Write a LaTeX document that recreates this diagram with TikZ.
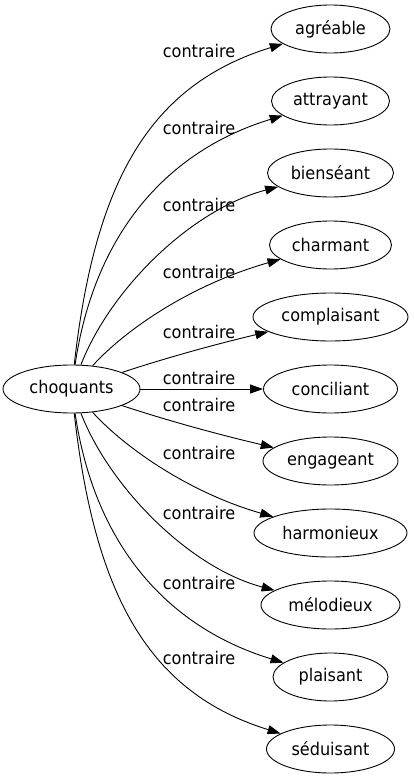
\documentclass[tikz,border=0pt]{standalone}
\usepackage{fontspec}
\setmainfont{DejaVu Sans}[FakeStretch=0.92]
\usetikzlibrary{arrows.meta,shapes.geometric}
\begin{document}
\begin{tikzpicture}[x=1pt,y=-1pt,
  word/.style={draw, ellipse, minimum height=48pt, inner sep=0pt, line width=0.9pt,
    font=\fontsize{17.5}{20}\selectfont},
  rel/.style={draw, line width=0.9pt, -{Triangle[length=13pt,width=9pt]}},
  lab/.style={inner sep=0pt, font=\fontsize{17.5}{20}\selectfont}]
\useasboundingbox (0,0) rectangle (413,779);
\node[word, minimum width=137pt] (c) at (71.5,389) {choquants};
\node[word, minimum width=119pt] (t1) at (330.5,29) {agréable};
\node[word, minimum width=118pt] (t2) at (330.5,101) {attrayant};
\node[word, minimum width=126pt] (t3) at (330.5,173) {bienséant};
\node[word, minimum width=122pt] (t4) at (330.5,245) {charmant};
\node[word, minimum width=155pt] (t5) at (330.5,317) {complaisant};
\node[word, minimum width=134pt] (t6) at (330.5,389) {conciliant};
\node[word, minimum width=135pt] (t7) at (330.5,461) {engageant};
\node[word, minimum width=153pt] (t8) at (330.5,533) {harmonieux};
\node[word, minimum width=139pt] (t9) at (330.5,605) {mélodieux};
\node[word, minimum width=115pt] (t10) at (330.5,677) {plaisant};
\node[word, minimum width=128pt] (t11) at (330.5,749) {séduisant};
\draw[rel] (c) .. controls (95,180) and (150,85) .. (t1);
\draw[rel] (c) .. controls (95,230) and (170,150) .. (t2);
\draw[rel] (c) .. controls (110,290) and (190,210) .. (t3);
\draw[rel] (c) .. controls (125,330) and (190,285) .. (t4);
\draw[rel] (c) .. controls (175,355) and (225,342) .. (t5);
\draw[rel] (c) -- (t6);
\draw[rel] (c) .. controls (175,423) and (225,436) .. (t7);
\draw[rel] (c) .. controls (125,448) and (190,493) .. (t8);
\draw[rel] (c) .. controls (110,488) and (190,568) .. (t9);
\draw[rel] (c) .. controls (95,548) and (170,628) .. (t10);
\draw[rel] (c) .. controls (95,598) and (150,693) .. (t11);
\node[lab] (l1) at (199,51) {contraire};
\node[lab] (l2) at (199,128) {contraire};
\node[lab] (l3) at (199,205) {contraire};
\node[lab] (l4) at (199,272) {contraire};
\node[lab] (l5) at (199,332) {contraire};
\node[lab] (l6) at (199,378) {contraire};
\node[lab] (l7) at (199,405) {contraire};
\node[lab] (l8) at (199,453) {contraire};
\node[lab] (l9) at (199,513) {contraire};
\node[lab] (l10) at (199,583) {contraire};
\node[lab] (l11) at (199,658) {contraire};
\end{tikzpicture}
\end{document}
